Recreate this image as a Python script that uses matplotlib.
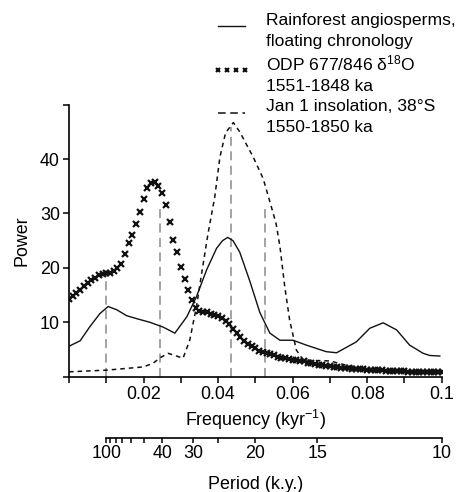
import numpy as np
import matplotlib.pyplot as plt

plt.rcParams['font.family'] = ['Liberation Sans', 'DejaVu Sans']
plt.rcParams['font.size'] = 12.9
plt.rcParams['mathtext.fontset'] = 'custom'
plt.rcParams['mathtext.rm'] = 'Liberation Sans'
plt.rcParams['mathtext.it'] = 'Liberation Sans:italic'
plt.rcParams['mathtext.bf'] = 'Liberation Sans:bold'

# Rainforest angiosperms, floating chronology (solid)
rain_freq = [0.0, 0.003, 0.0056, 0.0083, 0.0105, 0.0128, 0.0155, 0.0185, 0.0217,
             0.0253, 0.0284, 0.0316, 0.0342, 0.0369, 0.0396, 0.0412, 0.0426, 0.044,
             0.0458, 0.0485, 0.0512, 0.0539, 0.0566, 0.0601, 0.0637, 0.069, 0.0718,
             0.0771, 0.0807, 0.0843, 0.0879, 0.0914, 0.095, 0.0968, 0.0995]
rain_power = [5.6, 6.6, 9.2, 11.6, 12.9, 12.3, 11.2, 10.6, 10.0,
              9.1, 8.0, 11.0, 14.7, 19.6, 23.6, 25.0, 25.6, 25.0,
              22.9, 17.6, 11.8, 8.0, 6.7, 6.7, 5.8, 4.6, 4.4,
              6.4, 8.9, 9.9, 8.6, 5.8, 4.3, 3.9, 3.8]

# ODP 677/846 d18O, 1551-1848 ka (x markers, step 0.001)
odp_freq = np.arange(0, 101) * 0.001
odp_power = [14.3, 14.8, 15.4, 16.0, 16.7, 17.3, 17.8, 18.2, 18.6, 18.8,
             19.0, 19.1, 19.4, 20.0, 20.8, 22.5, 24.5, 26.1, 28.1, 30.2,
             32.6, 34.6, 35.6, 35.8, 35.0, 33.7, 31.5, 28.5, 25.1, 23.0,
             20.2, 17.9, 15.9, 14.1, 12.6, 12.0, 11.9, 11.8, 11.6, 11.4,
             11.1, 10.8, 10.3, 9.6, 8.7, 8.0, 7.3, 6.6, 6.1, 5.7,
             5.2, 4.8, 4.5, 4.3, 4.1, 3.9, 3.7, 3.5, 3.4, 3.3,
             3.1, 3.0, 2.9, 2.8, 2.6, 2.5, 2.4, 2.2, 2.1, 2.0,
             1.9, 1.8, 1.7, 1.65, 1.6, 1.55, 1.5, 1.45, 1.4, 1.35,
             1.3, 1.25, 1.2, 1.2, 1.15, 1.1, 1.1, 1.05, 1.0, 1.0,
             1.0, 0.95, 0.95, 0.9, 0.9, 0.9, 0.85, 0.85, 0.85, 0.8,
             0.8]

# Jan 1 insolation, 38S, 1550-1850 ka (dashed)
insol_freq = [0.0, 0.01, 0.02, 0.0226, 0.0245, 0.0266, 0.0306, 0.0324, 0.0342,
              0.0356, 0.0373, 0.0391, 0.0405, 0.042, 0.0441, 0.0458, 0.0494,
              0.0521, 0.0543, 0.0556, 0.0566, 0.0579, 0.0592, 0.061, 0.0628,
              0.065, 0.07, 0.075, 0.08, 0.09, 0.0995]
insol_power = [0.9, 1.2, 1.8, 2.5, 3.5, 4.3, 3.4, 6.7, 12.9,
               19.0, 26.3, 33.0, 40.4, 44.8, 46.7, 45.0, 40.4,
               36.4, 31.2, 28.0, 23.9, 16.5, 10.4, 4.9, 3.1,
               3.0, 2.9, 2.0, 1.4, 1.0, 0.7]

# orbital periods marked with grey dashed lines
orbital_periods = [100, 41, 23, 19]
orbital_tops = [18.7, 31.5, 45.9, 31.5]

freq_ticks = np.arange(0, 11) * 0.01
freq_tick_labels = ['', '', '0.02', '', '0.04', '', '0.06', '', '0.08', '', '0.1']
power_ticks = [0, 10, 20, 30, 40, 50]
power_tick_labels = ['', '10', '20', '30', '40', '']
period_ticks = [100, 90, 80, 70, 60, 50, 40, 30, 25, 20, 15, 10]
period_tick_labels = ['100', '', '', '', '', '', '40', '30', '', '20', '15', '10']

W, H = 457, 492
fig = plt.figure(figsize=(W / 100, H / 100), dpi=100)
ax = fig.add_axes([69 / W, (H - 376.7) / H, 372.7 / W, 272.1 / H])

ax.vlines(1 / np.array(orbital_periods), 0, orbital_tops, colors='#9c9c9c',
          linewidth=1.3, linestyles=(0, (5, 3)), zorder=1)

l_rain, = ax.plot(rain_freq, rain_power, color='#111111', lw=1.0, zorder=3,
                  label='Rainforest angiosperms,\nfloating chronology')
l_odp, = ax.plot(odp_freq, odp_power, ls='none', marker='x', ms=3.8, mew=1.6,
                 color='#111111', zorder=4,
                 label='ODP 677/846 δ$^{18}$O\n1551-1848 ka')
l_ins, = ax.plot(insol_freq, insol_power, color='#111111', lw=1.1,
                 ls=(0, (3, 2.6)), zorder=2,
                 label='Jan 1 insolation, 38°S\n1550-1850 ka')

ax.set_xlim(0, 0.1)
ax.set_ylim(0, 50)
ax.set_xticks(freq_ticks)
ax.set_xticklabels(freq_tick_labels)
ax.set_yticks(power_ticks)
ax.set_yticklabels(power_tick_labels)
for s in ['top', 'right']:
    ax.spines[s].set_visible(False)
for s in ['left', 'bottom']:
    ax.spines[s].set_linewidth(1.2)
ax.tick_params(direction='out', length=4, width=1.1, pad=2.5)
ax.set_xlabel('Frequency (kyr$^{-1}$)', labelpad=4)
ax.set_ylabel('Power', labelpad=7)

leg = ax.legend(handles=[l_rain, l_odp, l_ins], loc='upper left',
                bbox_to_anchor=(213 / W, 1 - 13 / H), bbox_transform=fig.transFigure,
                frameon=False, borderpad=0, borderaxespad=0, labelspacing=0.3,
                handlelength=2.15, handletextpad=0.86, numpoints=4, fontsize=12.6)
for t in leg.get_texts():
    t.set_linespacing(1.46)
# handles sit between the two label lines in the original
for h in leg.legend_handles:
    h.set_ydata(np.asarray(h.get_ydata()) + 3.0)
leg.legend_handles[1].set_markersize(3.0)
leg.legend_handles[1].set_markeredgewidth(1.5)
leg.legend_handles[2].set_dashes((5, 3))

# period axis below
ax2 = fig.add_axes([69 / W, (H - 437.5) / H, 372.7 / W, 0.0001])
ax2.set_xlim(0, 0.1)
ax2.set_yticks([])
for s in ['top', 'left', 'right']:
    ax2.spines[s].set_visible(False)
ax2.spines['bottom'].set_linewidth(1.2)
ax2.spines['bottom'].set_bounds(1 / 100, 1 / 10)
ax2.set_xticks(1 / np.array(period_ticks, dtype=float))
ax2.set_xticklabels(period_tick_labels)
ax2.tick_params(direction='out', length=3.5, width=1.1, pad=2)
ax2.set_xlabel('Period (k.y.)', labelpad=10)

fig.savefig('out.png', dpi=100)
